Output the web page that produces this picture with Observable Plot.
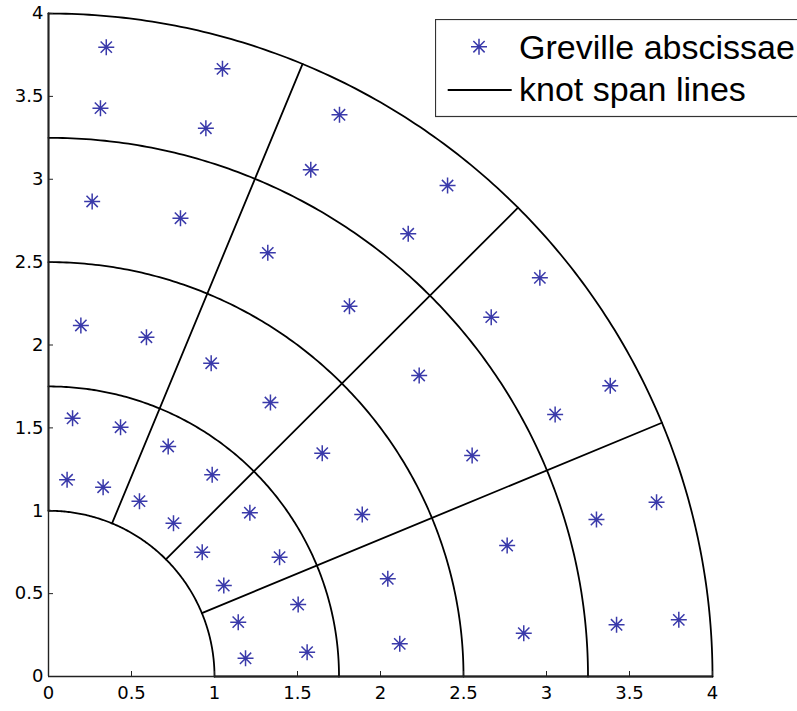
<!DOCTYPE html>
<html>
<head>
<meta charset="utf-8">
<script src="https://cdn.jsdelivr.net/npm/d3@7"></script>
<script src="https://cdn.jsdelivr.net/npm/@observablehq/plot@0.6"></script>
<style>
html, body { margin: 0; padding: 0; overflow: hidden; background: #fff; }
#wrap { position: relative; width: 797px; height: 711px; overflow: hidden; font-family: "Liberation Sans", Arial, Helvetica, sans-serif; }
#legend { position: absolute; left: 435px; top: 19px; }
</style>
</head>
<body>
<div id="wrap"></div>
<script>
// Greville abscissae
const grevilleX = [0.348, 1.048, 0.313, 0.948, 0.263, 0.795, 1.753, 1.580, 2.404, 2.167,
  1.321, 0.195, 0.590, 0.980, 1.337, 0.145, 0.434, 0.721, 1.813, 2.667,
  2.233, 1.649, 2.552, 2.960, 3.384, 3.052, 0.112, 0.329, 0.548, 0.753,
  0.986, 1.213, 0.926, 1.056, 1.143, 1.187, 1.890, 2.763, 1.392, 2.044,
  1.504, 2.116, 1.558, 3.301, 3.663, 3.422, 3.797, 2.863];
const grevilleY = [3.797, 3.666, 3.429, 3.308, 2.866, 2.765, 3.389, 3.057, 2.962, 2.671,
  2.556, 2.118, 2.047, 1.890, 1.653, 1.558, 1.504, 1.388, 2.234, 2.168,
  1.816, 1.347, 1.333, 2.405, 1.754, 1.581, 1.187, 1.142, 1.058, 0.925,
  1.217, 0.988, 0.750, 0.549, 0.328, 0.110, 0.977, 0.790, 0.720, 0.589,
  0.434, 0.197, 0.147, 0.947, 1.052, 0.312, 0.342, 0.261];

// Knot span lines: circular arcs at these radii, radial lines at these angles (degrees)
const knotRadii = [1, 1.75, 2.5, 3.25, 4];
const knotAngles = [0, 22.5, 45, 67.5, 90];

// Tick labels
const xTicks = [0, 0.5, 1, 1.5, 2, 2.5, 3, 3.5, 4];
const yTicks = [0, 0.5, 1, 1.5, 2, 2.5, 3, 3.5, 4];

const legendLabels = ["Greville abscissae", "knot span lines"];

// ---- build tables ----
const points = grevilleX.map((x, i) => ({x, y: grevilleY[i]}));
const rMin = d3.min(knotRadii), rMax = d3.max(knotRadii);
const aMin = d3.min(knotAngles), aMax = d3.max(knotAngles);
const arcs = [];
for (const r of knotRadii) {
  for (let k = 0; k <= 180; k++) {
    const a = (aMin + (aMax - aMin) * k / 180) * Math.PI / 180;
    arcs.push({r, x: r * Math.cos(a), y: r * Math.sin(a)});
  }
}
const radials = [];
for (const deg of knotAngles) {
  const a = deg * Math.PI / 180;
  radials.push({a: deg, x: rMin * Math.cos(a), y: rMin * Math.sin(a)});
  radials.push({a: deg, x: rMax * Math.cos(a), y: rMax * Math.sin(a)});
}

const asterisk = {
  draw(ctx, size) {
    const r = Math.sqrt(size / Math.PI);
    const d = r * Math.SQRT1_2;
    ctx.moveTo(-r, 0); ctx.lineTo(r, 0);
    ctx.moveTo(0, -r); ctx.lineTo(0, r);
    ctx.moveTo(-d, -d); ctx.lineTo(d, d);
    ctx.moveTo(-d, d); ctx.lineTo(d, -d);
  }
};

const W = 797, H = 711, mL = 48, mR = 85, mT = 13, mB = 35;
const plotW = W - mL - mR, plotH = H - mT - mB;
const markerColor = "#3a3aaa";
const font = "'Liberation Sans', Arial, Helvetica, sans-serif";
const tickFont = "'DejaVu Sans', 'Liberation Sans', Arial, sans-serif";

const chart = Plot.plot({
  width: W, height: H,
  marginLeft: mL, marginRight: mR, marginTop: mT, marginBottom: mB,
  x: {domain: [0, 4]},
  y: {domain: [0, 4]},
  style: {fontFamily: tickFont, fontSize: "18px", color: "#000", background: "#fff", overflow: "visible"},
  marks: [
    Plot.line(arcs, {x: "x", y: "y", z: "r", stroke: "#000", strokeWidth: 1.8}),
    Plot.line(radials, {x: "x", y: "y", z: "a", stroke: "#000", strokeWidth: 1.8}),
    Plot.ruleX([0], {stroke: "#222", strokeWidth: 1.4}),
    Plot.ruleY([0], {stroke: "#222", strokeWidth: 1.4}),
    Plot.tickX(xTicks, {x: d => d, insetTop: plotH - 5, stroke: "#222", strokeWidth: 1}),
    Plot.tickY(yTicks, {y: d => d, insetRight: plotW - 5, stroke: "#222", strokeWidth: 1}),
    Plot.axisX({ticks: xTicks, tickSize: 0, tickPadding: 10, tickFormat: d => String(d), label: null, fontSize: 18, fill: "#000"}),
    Plot.axisY({ticks: yTicks, tickSize: 0, tickPadding: 5, tickFormat: d => String(d), label: null, fontSize: 18, fill: "#000"}),
    Plot.dot(points, {x: "x", y: "y", r: 8, symbol: asterisk, stroke: markerColor, strokeWidth: 1.5, fill: "none"})
  ]
});

const wrap = document.getElementById("wrap");
wrap.appendChild(chart);

// legend (inside the axes, top right, like the original)
const ns = "http://www.w3.org/2000/svg";
const lg = document.createElementNS(ns, "svg");
lg.setAttribute("id", "legend");
lg.setAttribute("width", 420);
lg.setAttribute("height", 99);
const lsel = d3.select(lg);
lsel.append("rect").attr("x", 0.5).attr("y", 0.5).attr("width", 500).attr("height", 97)
  .attr("fill", "#fff").attr("stroke", "#333").attr("stroke-width", 1.2);
const sp = d3.path(); asterisk.draw(sp, 64 * Math.PI);
lsel.append("path").attr("d", sp.toString()).attr("transform", "translate(44,27.7)")
  .attr("stroke", markerColor).attr("stroke-width", 1.5).attr("fill", "none");
lsel.append("line").attr("x1", 12.7).attr("x2", 76.7).attr("y1", 71).attr("y2", 71)
  .attr("stroke", "#000").attr("stroke-width", 1.8);
lsel.selectAll("text").data(legendLabels).join("text")
  .attr("x", 84).attr("y", (d, i) => i === 0 ? 40.3 : 82)
  .attr("font-family", font).attr("font-size", 34).attr("fill", "#000")
  .text(d => d);
wrap.appendChild(lg);
</script>
</body>
</html>
